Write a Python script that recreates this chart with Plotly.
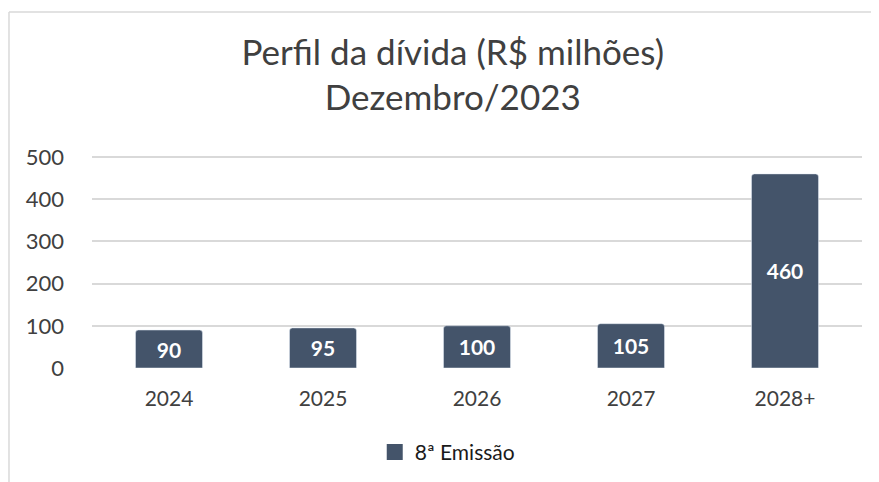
import plotly.graph_objects as go

# data
anos = ["2024", "2025", "2026", "2027", "2028+"]
valores = [90, 95, 100, 105, 460]
rotulos = ["90", "95", "100", "105", "460"]
serie = "8ª Emissão"
y_ticks = [0, 100, 200, 300, 400, 500]

fonte = "Lato"
cor_barra = "#44546A"
cor_texto = "#404040"
cor_grade = "#D9D9D9"

fig = go.Figure()
fig.add_trace(go.Bar(
    x=anos, y=valores, name=serie,
    marker=dict(color=cor_barra, cornerradius=3),
    text=rotulos, textposition="inside", insidetextanchor="middle",
    textfont=dict(family=fonte, size=21, color="white", weight="bold"),
    showlegend=False,
))
# entrada de legenda com quadrado maior, como no Excel
fig.add_trace(go.Scatter(
    x=[None], y=[None], mode="markers", name=serie,
    marker=dict(symbol="square", size=18, color=cor_barra),
))

# moldura do gráfico (só aparecem a borda esquerda e a de cima)
fig.add_shape(type="line", xref="paper", yref="paper",
              x0=-0.1078, x1=-0.1078, y0=-1.0, y1=1.679,
              line=dict(color=cor_grade, width=1.5))
fig.add_shape(type="line", xref="paper", yref="paper",
              x0=-0.1078, x1=1.1, y0=1.679, y1=1.679,
              line=dict(color=cor_grade, width=1.5))

fig.update_layout(
    width=879, height=482,
    margin=dict(l=84, r=25, t=148, b=122, autoexpand=False),
    paper_bgcolor="white", plot_bgcolor="white",
    font=dict(family=fonte, color=cor_texto),
    title=dict(text="Perfil da dívida (R$ milhões)<br>Dezembro/2023",
               x=0.506, xanchor="center", y=0.882, yanchor="middle",
               font=dict(family=fonte, size=35, color=cor_texto)),
    bargap=0.565,
    legend=dict(orientation="h", x=0.462, xanchor="center", y=-0.398, yanchor="middle",
                font=dict(family=fonte, size=21, color="#1a1a1a"),
                itemwidth=30),
    xaxis=dict(showline=False, ticks="", tickfont=dict(size=21), automargin=False,
               ticklabelstandoff=16, fixedrange=True),
    yaxis=dict(range=[0, 502.4], tickvals=y_ticks, showgrid=True, gridcolor=cor_grade,
               gridwidth=1.5, zeroline=False, tickfont=dict(size=22), automargin=False,
               ticklabelstandoff=27, fixedrange=True),
)

fig.write_html("out.html")
